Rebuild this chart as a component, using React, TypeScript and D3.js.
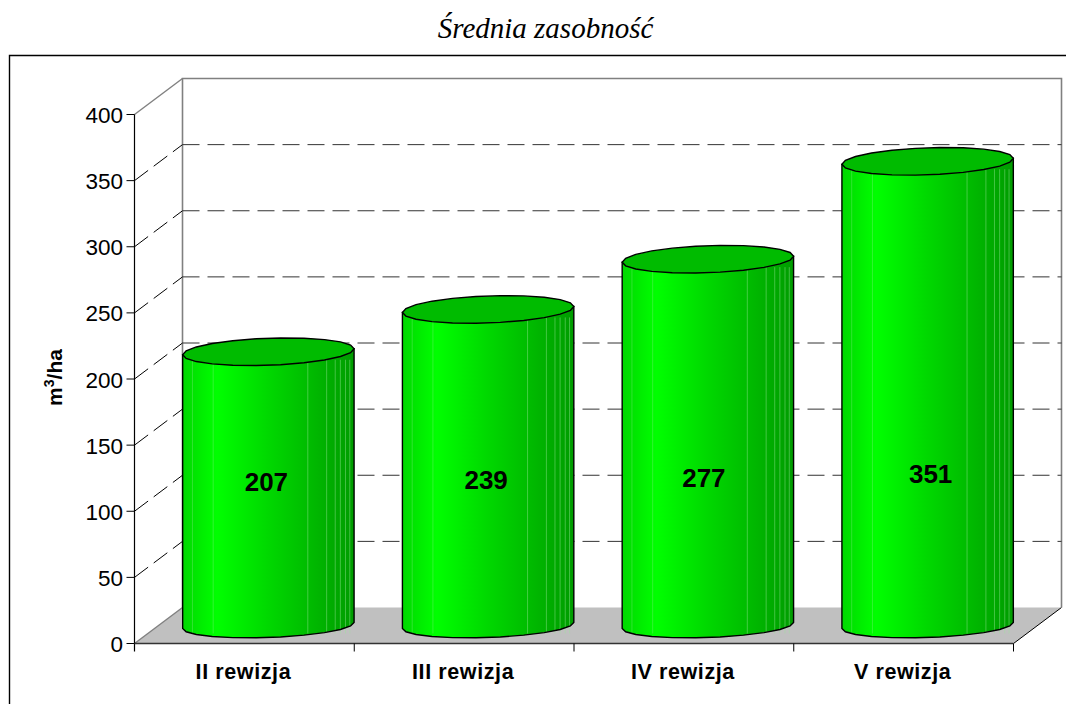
import * as d3 from 'd3'

const title = 'Średnia zasobność'
const categories = ['II rewizja', 'III rewizja', 'IV rewizja', 'V rewizja']
const values = [207, 239, 277, 351]
const yTicks = [0, 50, 100, 150, 200, 250, 300, 350, 400]
const labelNudge = [-2, -2, -4, 3]

const width = 1066
const height = 704
const margin = { left: 134.5, right: 52.5, top: 114.5, bottom: 60.5 }
const depthX = 48
const depthY = 36
const sans = '"Liberation Sans", Arial, sans-serif'

const y = d3.scaleLinear().domain([0, 400]).range([height - margin.bottom, margin.top])
const x = d3.scaleBand<string>()
  .domain(categories)
  .range([margin.left, width - margin.right])
  .paddingInner(0)
  .paddingOuter(0)
// the value labels drift upward a little as the bars grow
const labelY = d3.scaleLinear().domain([207, 351]).range([491, 483])

const barWidth = x.bandwidth() * 0.78
const rx = barWidth / 2
const topRy = 13.5
const bottomRy = 12
const slope = 3

// faceted outline, like the exported 3D cylinder
const angles = d3.range(0, 2 * Math.PI, Math.PI / 11)
const rimLine = d3.line<number>()
  .x(a => rx * Math.cos(a))
  .y(a => topRy * Math.sin(a) - slope * Math.cos(a))
  .curve(d3.curveLinearClosed)

const sliceStops = [0.057, 0.178, 0.73, 0.84, 0.89, 0.92, 0.95, 0.975]

function Cylinder({ name, value, nudge }: { name: string; value: number; nudge: number }) {
  const cx = x(name)! + x.bandwidth() / 2 + depthX / 2
  const yTop = y(value) - depthY / 2
  const yBottom = y(0) - depthY / 2
  const left = cx - rx

  const body = d3.path()
  body.moveTo(left, yTop + slope)
  angles
    .filter(a => a <= Math.PI + 0.001)
    .reverse()
    .forEach((a) => {
      body.lineTo(cx + rx * Math.cos(a), yBottom + bottomRy * Math.sin(a) - slope * Math.cos(a))
    })
  body.lineTo(left + barWidth, yTop - slope)
  body.closePath()

  return (
    <g>
      <path d={body.toString()} fill="url(#cyl)" />
      {sliceStops.map(s => (
        <line
          key={s}
          x1={left + barWidth * s}
          x2={left + barWidth * s}
          y1={yTop + 8}
          y2={yBottom + 8}
          stroke="#9be89b"
          strokeOpacity={s > 0.7 ? 0.55 : 0.4}
          strokeWidth={0.8}
        />
      ))}
      <path d={body.toString()} fill="none" stroke="#000" strokeWidth={1.4} />
      <path
        d={rimLine(angles) ?? ''}
        transform={`translate(${cx},${yTop})`}
        fill="#00bb00"
        stroke="#000"
        strokeWidth={1.4}
      />
      <text
        x={cx + nudge}
        y={labelY(value)}
        textAnchor="middle"
        fontFamily={sans}
        fontWeight="bold"
        fontSize={26}
      >
        {value}
      </text>
    </g>
  )
}

export default function App() {
  const frontRight = width - margin.right
  const backLeft = margin.left + depthX
  const backRight = frontRight + depthX

  return (
    <svg
      width={width}
      height={height}
      style={{ position: 'absolute', left: 0, top: 0, background: '#fff' }}
    >
      <defs>
        <linearGradient id="cyl" x1="0" x2="1" y1="0" y2="0">
          <stop offset="0" stopColor="#00d800" />
          <stop offset="0.2" stopColor="#00ff00" />
          <stop offset="0.5" stopColor="#00d800" />
          <stop offset="0.8" stopColor="#00b400" />
          <stop offset="1" stopColor="#009c00" />
        </linearGradient>
      </defs>

      <text
        x={545.5}
        y={38}
        textAnchor="middle"
        fontFamily='"Liberation Serif", serif'
        fontStyle="italic"
        fontSize={29}
      >
        {title}
      </text>

      <path
        d={`M${width},55.5H9.5V${height}`}
        fill="none"
        stroke="#000"
        strokeWidth={1.4}
      />

      {/* floor */}
      <path
        d={`M${margin.left},${y(0)}L${backLeft},${y(0) - depthY}H${backRight}L${frontRight},${y(0)}Z`}
        fill="#c0c0c0"
      />
      <path d={`M${margin.left},${y(0)}L${backLeft},${y(0) - depthY}`} stroke="#808080" strokeWidth={1.4} />
      <path d={`M${backRight},${y(0) - depthY}L${frontRight},${y(0)}`} stroke="#000" strokeWidth={1} />

      {/* back wall */}
      <path
        d={`M${backLeft},${y(0) - depthY}V${y(400) - depthY}H${backRight}V${y(0) - depthY}`}
        fill="none"
        stroke="#808080"
        strokeWidth={1.6}
      />
      <path d={`M${margin.left},${y(400)}L${backLeft},${y(400) - depthY}`} stroke="#808080" strokeWidth={1.4} />

      {/* dashed gridlines */}
      {yTicks.filter(t => t > 0 && t < 400).map(t => (
        <g key={t}>
          <path
            d={`M${margin.left},${y(t)}L${backLeft},${y(t) - depthY}`}
            stroke="#000"
            strokeWidth={1}
            strokeDasharray="17 7"
          />
          <path
            d={`M${backLeft},${y(t) - depthY}H${backRight}`}
            stroke="#333"
            strokeWidth={1}
            strokeDasharray="17 8"
          />
        </g>
      ))}

      {categories.map((c, i) => (
        <Cylinder key={c} name={c} value={values[i]} nudge={labelNudge[i]} />
      ))}

      {/* y axis */}
      <line x1={margin.left} x2={margin.left} y1={y(400)} y2={y(0) + 8} stroke="#000" strokeWidth={1.2} />
      {yTicks.map(t => (
        <g key={t}>
          <line x1={margin.left - 8} x2={margin.left} y1={y(t)} y2={y(t)} stroke="#000" strokeWidth={1} />
          <text
            x={margin.left - 11.5}
            y={y(t) + 8.5}
            textAnchor="end"
            fontFamily={sans}
            fontSize={22.5}
          >
            {t}
          </text>
        </g>
      ))}

      {/* x axis */}
      <line x1={margin.left} x2={frontRight} y1={y(0)} y2={y(0)} stroke="#333" strokeWidth={1.6} />
      {categories.map((c) => (
        <line key={c} x1={x(c)! + x.bandwidth()} x2={x(c)! + x.bandwidth()} y1={y(0)} y2={y(0) + 8} stroke="#000" strokeWidth={1} />
      ))}
      {categories.map((c) => (
        <text
          key={c}
          x={x(c)! + x.bandwidth() / 2 - 1}
          y={679}
          textAnchor="middle"
          fontFamily={sans}
          fontWeight="bold"
          fontSize={21.5}
          letterSpacing={0.6}
        >
          {c}
        </text>
      ))}

      <text
        transform={`translate(62,377.5) rotate(-90)`}
        textAnchor="middle"
        fontFamily={sans}
        fontWeight="bold"
        fontSize={21}
      >
        m<tspan dy={-8} fontSize={14}>3</tspan><tspan dy={8}>/ha</tspan>
      </text>
    </svg>
  )
}
